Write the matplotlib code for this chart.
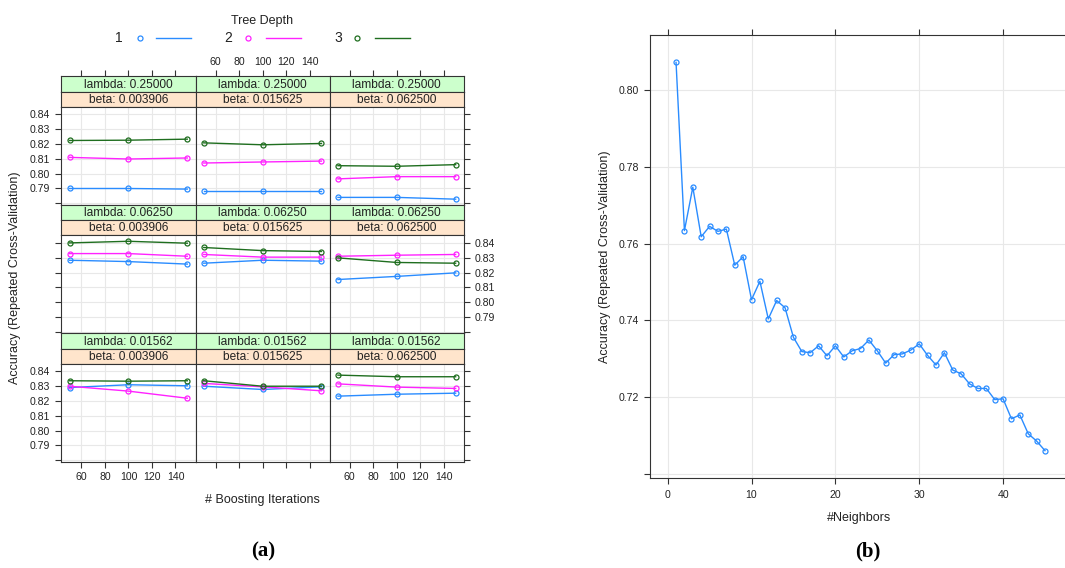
import matplotlib
matplotlib.use('Agg')
import matplotlib.pyplot as plt
from matplotlib.lines import Line2D

plt.rcParams['font.family'] = ['Liberation Sans', 'DejaVu Sans']

W, H = 1065, 568
fig = plt.figure(figsize=(W / 100, H / 100), dpi=100)


def px_axes(x0, y0, x1, y1, **kw):
    return fig.add_axes([x0 / W, 1 - y1 / H, (x1 - x0) / W, (y1 - y0) / H], **kw)


# ---------------- data: panel (a) ----------------
iterations = [50, 100, 150]
tree_depths = ['1', '2', '3']
lambda_labels = ['lambda: 0.25000', 'lambda: 0.06250', 'lambda: 0.01562']
beta_labels = ['beta: 0.003906', 'beta: 0.015625', 'beta: 0.062500']
iter_ticks = [60, 80, 100, 120, 140]
acc_ticks = [0.78, 0.79, 0.80, 0.81, 0.82, 0.83, 0.84]
acc_tick_labels = ['', '0.79', '0.80', '0.81', '0.82', '0.83', '0.84']

# each: [depth1, depth2, depth3] over iterations 50/100/150
acc_l0250_b0039 = [[0.7900, 0.7900, 0.7896], [0.8110, 0.8099, 0.8106], [0.8224, 0.8226, 0.8233]]
acc_l0250_b0156 = [[0.7880, 0.7880, 0.7880], [0.8072, 0.8079, 0.8085], [0.8208, 0.8195, 0.8204]]
acc_l0250_b0625 = [[0.7840, 0.7840, 0.7828], [0.7965, 0.7980, 0.7980], [0.8054, 0.8050, 0.8061]]
acc_l0625_b0039 = [[0.8283, 0.8274, 0.8257], [0.8328, 0.8328, 0.8310], [0.8400, 0.8411, 0.8398]]
acc_l0625_b0156 = [[0.8263, 0.8283, 0.8277], [0.8322, 0.8304, 0.8304], [0.8369, 0.8348, 0.8342]]
acc_l0625_b0625 = [[0.8153, 0.8174, 0.8198], [0.8310, 0.8317, 0.8322], [0.8299, 0.8268, 0.8263]]
acc_l0156_b0039 = [[0.8291, 0.8310, 0.8303], [0.8300, 0.8267, 0.8219], [0.8337, 0.8334, 0.8337]]
acc_l0156_b0156 = [[0.8300, 0.8278, 0.8296], [0.8319, 0.8296, 0.8269], [0.8337, 0.8300, 0.8300]]
acc_l0156_b0625 = [[0.8233, 0.8246, 0.8253], [0.8316, 0.8294, 0.8285], [0.8375, 0.8364, 0.8364]]

grid_data = [
    [acc_l0250_b0039, acc_l0250_b0156, acc_l0250_b0625],
    [acc_l0625_b0039, acc_l0625_b0156, acc_l0625_b0625],
    [acc_l0156_b0039, acc_l0156_b0156, acc_l0156_b0625],
]

# ---------------- data: panel (b) ----------------
neighbors = list(range(1, 46))
knn_accuracy = [0.8072, 0.7634, 0.7747, 0.7618, 0.7645, 0.7632, 0.7638, 0.7544, 0.7566, 0.7454,
                0.7502, 0.7404, 0.7452, 0.7433, 0.7356, 0.7319, 0.7316, 0.7334, 0.7308, 0.7334,
                0.7305, 0.7321, 0.7327, 0.7349, 0.7321, 0.7289, 0.7311, 0.7313, 0.7323, 0.7339,
                0.7309, 0.7284, 0.7316, 0.7271, 0.7261, 0.7235, 0.7223, 0.7223, 0.7194, 0.7196,
                0.7144, 0.7154, 0.7105, 0.7086, 0.7061]
knn_xticks = [0, 10, 20, 30, 40]
knn_yticks = [0.70, 0.72, 0.74, 0.76, 0.78, 0.80]
knn_ytick_labels = ['', '0.72', '0.74', '0.76', '0.78', '0.80']

colors = ['#2a8cff', '#ff22ff', '#1f6e1f']
grid_col = '#e8e8e8'
TICK_FS = 7.6
STRIP_FS = 8.6
XLIM_A = (43, 157)

# ---------------- panel (a) layout ----------------
x_left = 61.3
pw = 134.2
row_tops = [76.3, 204.8, 333.3]
row_h = 128.5
sh = 15.2

for r in range(3):
    top = row_tops[r]
    for c in range(3):
        x0 = x_left + c * pw
        x1 = x0 + pw
        # strips
        for k, (lab, fc) in enumerate([(lambda_labels[r], '#ccffcc'), (beta_labels[c], '#ffe5cc')]):
            sa = px_axes(x0, top + k * sh, x1, top + (k + 1) * sh)
            sa.set_facecolor(fc)
            sa.set_xlim(*XLIM_A)
            sa.set_yticks([])
            if r == 0 and k == 0:
                sa.set_xticks(iter_ticks)
                sa.tick_params(axis='x', direction='out', length=4, width=0.8, colors='#333333',
                               labelsize=TICK_FS, labelcolor='#222222', pad=3,
                               top=True, bottom=False, labeltop=(c == 1), labelbottom=False)
            else:
                sa.set_xticks([])
            for sp in sa.spines.values():
                sp.set_linewidth(0.8)
                sp.set_color('#333333')
            sa.text(0.5, 0.45, lab, ha='center', va='center', fontsize=STRIP_FS,
                    color='#222222', transform=sa.transAxes)
        ax = px_axes(x0, top + 2 * sh, x1, top + row_h)
        ax.set_xlim(*XLIM_A)
        ax.set_ylim(0.7790, 0.8452)
        for v in iter_ticks:
            ax.axvline(v, color=grid_col, lw=0.8, zorder=0)
        for v in acc_ticks:
            ax.axhline(v, color=grid_col, lw=0.8, zorder=0)
        for d in range(3):
            ax.plot(iterations, grid_data[r][c][d], color=colors[d], lw=1.0,
                    marker='o', ms=3.6, mfc='none', mew=0.9, zorder=3)
        for sp in ax.spines.values():
            sp.set_linewidth(0.8)
            sp.set_color('#333333')
        # x ticks
        ax.set_xticks(iter_ticks)
        ax.tick_params(axis='x', direction='out', length=4, width=0.8, colors='#333333',
                       labelsize=TICK_FS, labelcolor='#222222', pad=3,
                       top=False, bottom=(r == 2),
                       labeltop=False, labelbottom=(r == 2 and c != 1))
        # y ticks
        ax.set_yticks(acc_ticks)
        ax.set_yticklabels(acc_tick_labels)
        ax.tick_params(axis='y', direction='out', length=4, width=0.8, colors='#333333',
                       labelsize=TICK_FS, labelcolor='#222222', pad=4,
                       left=(c == 0), right=(c == 2),
                       labelleft=(c == 0 and r != 1), labelright=(c == 2 and r == 1))

fig.text(15 / W, 1 - 278 / H, 'Accuracy (Repeated Cross-Validation)', rotation=90,
         ha='center', va='center', fontsize=9, color='#222222')
fig.text(262 / W, 1 - 500 / H, '# Boosting Iterations', ha='center', va='center',
         fontsize=9, color='#222222')

# legend
fig.text(262 / W, 1 - 21 / H, 'Tree Depth', ha='center', va='center', fontsize=9, color='#222222')
leg_pos = [(119, 140, 156, 191), (228, 248, 266, 301), (338, 357, 375, 410)]
for d, (tx, mx, l0, l1) in enumerate(leg_pos):
    yy = 1 - 37.5 / H
    fig.text(tx / W, yy, tree_depths[d], ha='center', va='center', fontsize=10, color='#222222')
    fig.add_artist(Line2D([mx / W], [yy], marker='o', ms=3.6, mfc='none', mew=0.9,
                          color=colors[d], transform=fig.transFigure))
    fig.add_artist(Line2D([l0 / W, l1 / W], [yy, yy], lw=1.0, color=colors[d],
                          transform=fig.transFigure))

# ---------------- panel (b) ----------------
axb = px_axes(650.3, 35.3, 1071, 477.7)
axb.set_xlim(-2.07, 48.1)
axb.set_ylim(0.69906, 0.81425)
for v in knn_xticks:
    axb.axvline(v, color=grid_col, lw=0.8, zorder=0)
for v in knn_yticks:
    axb.axhline(v, color=grid_col, lw=0.8, zorder=0)
axb.plot(neighbors, knn_accuracy, color=colors[0], lw=1.0, marker='o', ms=3.6,
         mfc='none', mew=0.9, zorder=3)
for sp in axb.spines.values():
    sp.set_linewidth(0.8)
    sp.set_color('#333333')
axb.set_xticks(knn_xticks)
axb.set_yticks(knn_yticks)
axb.set_yticklabels(knn_ytick_labels)
axb.tick_params(axis='x', direction='out', length=4, width=0.8, colors='#333333',
                labelsize=TICK_FS, labelcolor='#222222', pad=5, top=True, labeltop=False)
axb.tick_params(axis='y', direction='out', length=4, width=0.8, colors='#333333',
                labelsize=TICK_FS, labelcolor='#222222', pad=4, right=True)
fig.text(605 / W, 1 - 257 / H, 'Accuracy (Repeated Cross-Validation)', rotation=90,
         ha='center', va='center', fontsize=9, color='#222222')
fig.text(859 / W, 1 - 518 / H, '#Neighbors', ha='center', va='center', fontsize=9,
         color='#222222')

# sub-figure labels
fig.text(263 / W, 1 - 551 / H, '(a)', ha='center', va='center', fontsize=15,
         fontweight='bold', family=['Liberation Serif', 'DejaVu Serif'], color='black')
fig.text(868 / W, 1 - 551 / H, '(b)', ha='center', va='center', fontsize=15,
         fontweight='bold', family=['Liberation Serif', 'DejaVu Serif'], color='black')

fig.savefig('out.png', dpi=100, facecolor='white')
